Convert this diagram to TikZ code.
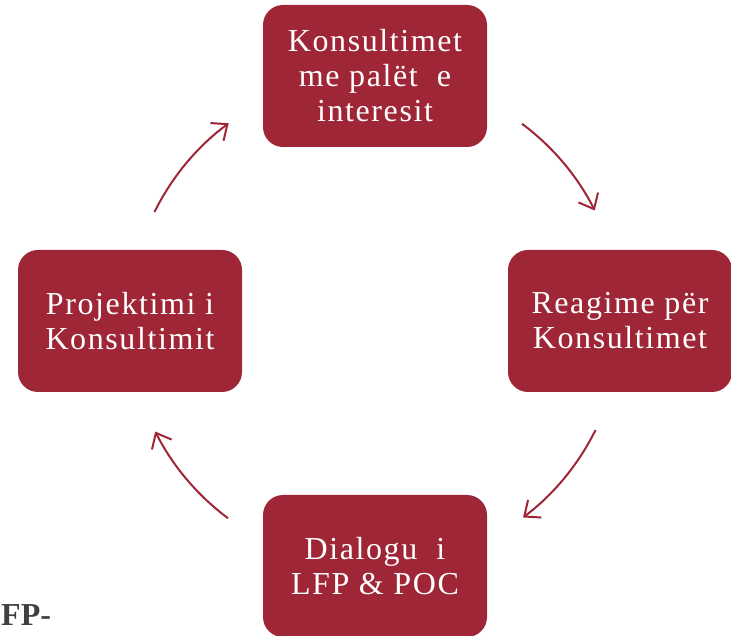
\documentclass[tikz,border=0pt]{standalone}
\usepackage{fontspec}
\setmainfont{Liberation Serif}
\newfontfamily\stagefont[LetterSpace=5]{Liberation Serif}
\usetikzlibrary{arrows.meta}
\definecolor{boxred}{HTML}{9F2636}
\definecolor{fpgray}{HTML}{404040}

\begin{document}
\begin{tikzpicture}[x=1pt,y=1pt,
    stage/.style={fill=boxred,rounded corners=20pt,minimum width=224pt,minimum height=142pt,
      inner sep=0pt,text=white,align=center,font=\stagefont\fontsize{32}{35}\selectfont},
    flow/.style={draw=boxred,line width=2pt,-{Straight Barb[length=13pt,width=22pt]}}]
  \useasboundingbox (0,0) rectangle (731,635);
  \coordinate (C) at (375,314); % centre of the cycle
  % the four stages, centres on a circle round C
  \node[stage] (consult) at (375,559) {Konsultimet\\me palët~ e\\interesit};
  \node[stage] (react) at (620,314) {Reagime për\\Konsultimet};
  \node[stage] (dialog) at (375,69) {Dialogu~ i\\LFP \& POC};
  \node[stage] (design) at (130,314) {Projektimi i\\Konsultimit};
  % cycle arrows, arcs of radius 246 round C
  \foreach \s/\e in {53.3/26.7,-26.3/-53,-126.7/-153.3,153.7/126.5}
    \draw[flow] ([shift={(\s:246)}]C) arc[start angle=\s,end angle=\e,radius=246];
  % cut-off text at the bottom edge
  \node[anchor=base west,inner sep=0pt,text=fpgray,font=\bfseries\fontsize{32}{35}\selectfont] (fp) at (1,10) {FP-};
\end{tikzpicture}
\end{document}
